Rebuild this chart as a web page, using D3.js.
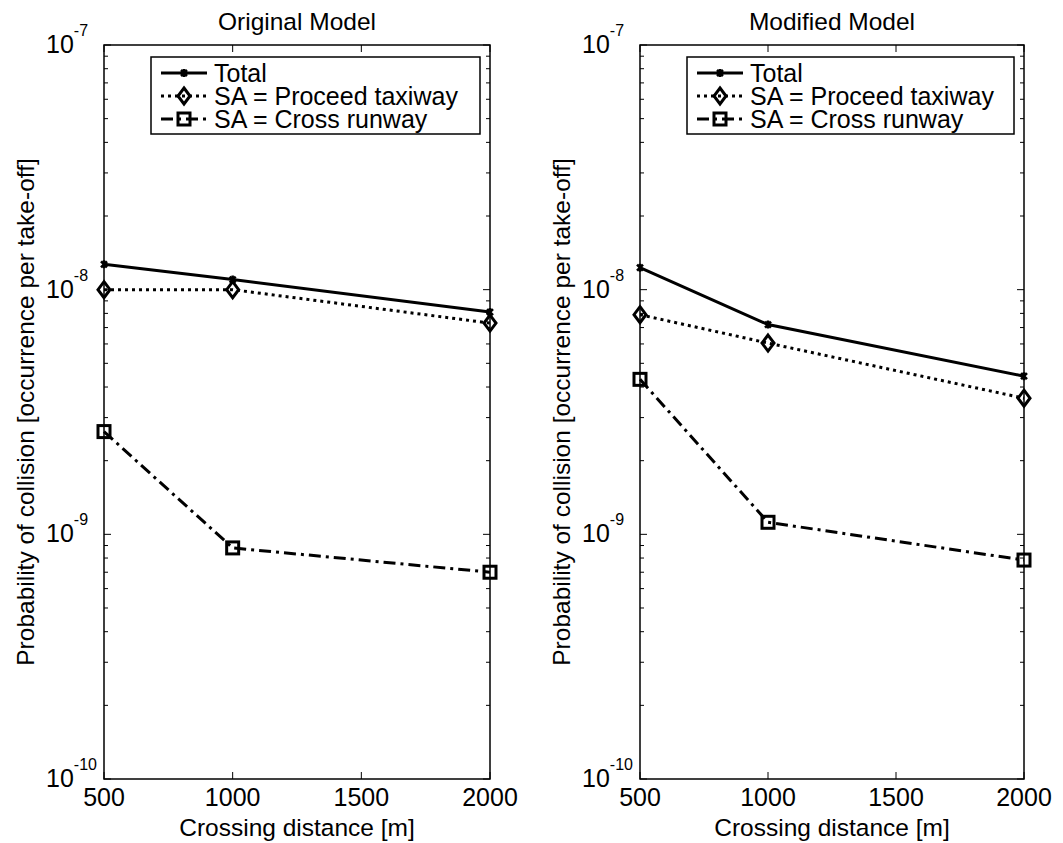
<!DOCTYPE html>
<html>
<head>
<meta charset="utf-8">
<script src="https://cdn.jsdelivr.net/npm/d3@7"></script>
<style>
  body { margin: 0; background: #fff; }
  svg text { font-family: "Liberation Sans", Arial, sans-serif; fill: #000; }
</style>
</head>
<body>
<script>
// crossing distances [m]
var distances = [500, 1000, 2000];

// original model
var origTotal   = [1.27e-8, 1.10e-8, 8.1e-9];
var origProceed = [1.00e-8, 1.00e-8, 7.3e-9];
var origCross   = [2.63e-9, 8.8e-10, 7.0e-10];

// modified model
var modTotal   = [1.23e-8, 7.2e-9, 4.43e-9];
var modProceed = [7.9e-9, 6.05e-9, 3.6e-9];
var modCross   = [4.3e-9, 1.12e-9, 7.85e-10];

var xTicks = [500, 1000, 1500, 2000];
var yExps = [-10, -9, -8, -7];
var legendLabels = ["Total", "SA = Proceed taxiway", "SA = Cross runway"];
var titles = ["Original Model", "Modified Model"];

var width = 1063, height = 843;
var svg = d3.select("body").append("svg")
    .attr("width", width)
    .attr("height", height);

var styles = [
    {dash: null, marker: "x"},
    {dash: "3,4", marker: "diamond"},
    {dash: "12,5,3,5", marker: "square"}
];

function drawMarker(g, type, cx, cy) {
    if (type === "x") {
        g.append("path")
            .attr("d", "M" + (cx - 3) + "," + (cy - 3) + "L" + (cx + 3) + "," + (cy + 3) +
                "M" + (cx - 3) + "," + (cy + 3) + "L" + (cx + 3) + "," + (cy - 3) +
                "M" + cx + "," + (cy - 4) + "L" + cx + "," + (cy + 4))
            .attr("stroke", "#000").attr("stroke-width", 2.5).attr("fill", "none");
    } else if (type === "diamond") {
        g.append("path")
            .attr("d", "M" + cx + "," + (cy - 8) + "L" + (cx + 6) + "," + cy + "L" + cx + "," + (cy + 8) + "L" + (cx - 6) + "," + cy + "Z")
            .attr("stroke", "#000").attr("stroke-width", 3).attr("fill", "none");
    } else {
        g.append("rect")
            .attr("x", cx - 6).attr("y", cy - 6).attr("width", 12).attr("height", 12)
            .attr("stroke", "#000").attr("stroke-width", 3).attr("fill", "none");
    }
}

function panel(left, right, title, seriesList) {
    var top = 45, bottom = 779;

    var x = d3.scaleLinear().domain([500, 2000]).range([left, right]);
    var y = d3.scaleLog().domain([1e-10, 1e-7]).range([bottom, top]);

    var g = svg.append("g");

    // title
    g.append("text")
        .attr("x", (left + right) / 2).attr("y", 30)
        .attr("text-anchor", "middle")
        .style("font-size", "24.5px")
        .text(title);

    // series lines
    var line = d3.line()
        .x(function (d) { return x(d[0]); })
        .y(function (d) { return y(d[1]); });

    seriesList.forEach(function (vals, i) {
        var pts = distances.map(function (dd, j) { return [dd, vals[j]]; });
        g.append("path")
            .attr("d", line(pts))
            .attr("fill", "none")
            .attr("stroke", "#000")
            .attr("stroke-width", 3)
            .attr("stroke-dasharray", styles[i].dash);
        pts.forEach(function (p) {
            drawMarker(g, styles[i].marker, x(p[0]), y(p[1]));
        });
    });

    // ticks: x on top and bottom
    xTicks.forEach(function (t) {
        var px = x(t);
        g.append("line").attr("x1", px).attr("x2", px).attr("y1", bottom).attr("y2", bottom - 7)
            .attr("stroke", "#000").attr("stroke-width", 1);
        g.append("line").attr("x1", px).attr("x2", px).attr("y1", top).attr("y2", top + 7)
            .attr("stroke", "#000").attr("stroke-width", 1);
        g.append("text")
            .attr("x", px).attr("y", bottom + 27)
            .attr("text-anchor", "middle")
            .style("font-size", "25px")
            .text(t);
    });

    // y ticks (log): majors and minors on both sides
    yExps.forEach(function (e) {
        var base = Math.pow(10, e);
        var py = y(base);
        g.append("line").attr("x1", left).attr("x2", left + 7).attr("y1", py).attr("y2", py)
            .attr("stroke", "#000");
        g.append("line").attr("x1", right).attr("x2", right - 7).attr("y1", py).attr("y2", py)
            .attr("stroke", "#000");
        if (e < -7) {
            for (var m = 2; m <= 9; m++) {
                var my = y(m * base);
                g.append("line").attr("x1", left).attr("x2", left + 4).attr("y1", my).attr("y2", my)
                    .attr("stroke", "#000");
                g.append("line").attr("x1", right).attr("x2", right - 4).attr("y1", my).attr("y2", my)
                    .attr("stroke", "#000");
            }
        }
        var lab = g.append("text")
            .attr("x", left - 58).attr("y", py + 8)
            .style("font-size", "25px");
        lab.append("tspan").text("10");
        lab.append("tspan").attr("dy", -17).style("font-size", "16px").text(String(e));
    });

    // axes box
    g.append("rect")
        .attr("x", left).attr("y", top)
        .attr("width", right - left).attr("height", bottom - top)
        .attr("fill", "none").attr("stroke", "#000").attr("stroke-width", 1.5);

    // axis labels
    g.append("text")
        .attr("x", (left + right) / 2).attr("y", bottom + 57)
        .attr("text-anchor", "middle")
        .style("font-size", "24.5px")
        .text("Crossing distance [m]");

    g.append("text")
        .attr("transform", "translate(" + (left - 70) + "," + ((top + bottom) / 2) + ") rotate(-90)")
        .attr("text-anchor", "middle")
        .style("font-size", "24.5px")
        .text("Probability of collision [occurrence per take-off]");

    // legend
    var lx = left + 47, ly = 57, lw = right - 10 - lx, lh = 77;
    var leg = g.append("g");
    leg.append("rect")
        .attr("x", lx).attr("y", ly).attr("width", lw).attr("height", lh)
        .attr("fill", "#fff").attr("stroke", "#000").attr("stroke-width", 1.5);
    legendLabels.forEach(function (lbl, i) {
        var ry = ly + 16 + i * 23;
        leg.append("line")
            .attr("x1", lx + 10).attr("x2", lx + 56).attr("y1", ry).attr("y2", ry)
            .attr("stroke", "#000").attr("stroke-width", 3)
            .attr("stroke-dasharray", styles[i].dash);
        drawMarker(leg, styles[i].marker, lx + 33, ry);
        leg.append("text")
            .attr("x", lx + 63).attr("y", ry + 9)
            .style("font-size", "25px")
            .text(lbl);
    });
}

panel(104, 490, titles[0], [origTotal, origProceed, origCross]);
panel(640, 1024, titles[1], [modTotal, modProceed, modCross]);
</script>
</body>
</html>
